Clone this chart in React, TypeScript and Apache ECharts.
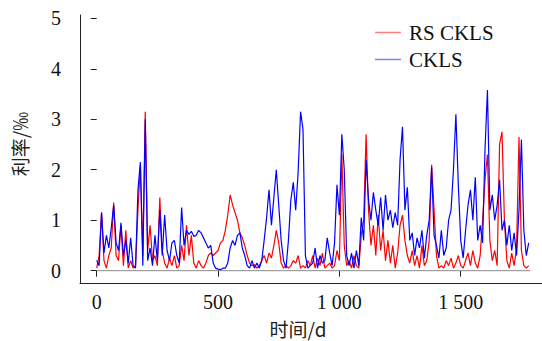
import React, { useEffect, useRef } from "react";
import * as echarts from "echarts";

const STEP_DAYS = 10;
const xTicks = [0, 500, 1000, 1500];
const yTicks = [0, 1, 2, 3, 4, 5];
const seriesNames = ["RS CKLS", "CKLS"];

const rsCkls = [
  0.05, 0.3, 1.15, 0.2, 0.05, 0.3, 0.45, 1.35, 0.3, 0.2,
  0.9, 0.1, 0.8, 0.05, 0.2, 0.05, 0.1, 1.2, 2.1, 0.3,
  3.15, 0.4, 0.9, 0.2, 0.3, 0.1, 1.45, 0.4, 0.15, 0.05,
  0.25, 0.1, 0.3, 0.05, 0.1, 0.5, 0.2, 0.9, 0.3, 0.7,
  0.15, 0.05, 0.2, 0.1, 0.05, 0.15, 0.3, 0.35, 0.3, 0.35,
  0.4, 0.55, 0.6, 0.8, 1.1, 1.5, 1.3, 1.15, 1.0, 0.75,
  0.65, 0.5, 0.3, 0.15, 0.1, 0.12, 0.05, 0.1, 0.2, 0.3,
  0.15, 0.35, 0.25, 0.5, 0.8, 0.55, 0.15, 0.05, 0.1, 0.05,
  0.1, 0.2, 0.15, 0.3, 0.05, 0.1, 0.05, 0.2, 0.1, 0.3,
  0.05, 0.25, 0.1, 0.35, 0.05, 0.1, 0.15, 0.05, 0.1, 0.4,
  0.2, 2.3, 0.5, 0.1, 0.2, 0.05, 0.3, 0.1, 0.05, 0.7,
  1.0, 2.7, 1.2, 0.5, 0.9, 0.3, 1.1, 0.4, 0.8, 0.2,
  0.6, 0.15, 0.5, 0.05, 0.35, 0.9, 1.1, 0.6, 0.3, 0.15,
  0.4, 0.1, 0.3, 0.05, 0.5, 0.1, 0.2, 0.6, 2.1, 1.2,
  0.3, 0.05, 0.1, 0.05, 0.2, 0.1, 0.25, 0.05, 0.15, 0.3,
  0.1, 0.05, 0.2, 0.35, 0.1, 0.4, 0.15, 0.05, 0.3, 1.0,
  1.8, 2.3, 0.6, 0.2, 0.4, 0.1, 2.5, 2.75, 1.0, 0.2,
  0.05, 0.35, 0.1, 0.45, 2.65, 0.4, 0.1, 0.05, 0.1,
];

const ckls = [
  0.2, 0.1, 1.15, 0.35, 0.7, 0.45, 0.85, 1.3, 0.55, 0.4,
  0.95, 0.3, 0.6, 0.15, 0.65, 0.1, 0.05, 1.6, 2.15, 0.1,
  3.0, 0.2, 0.45, 0.1, 0.7, 0.2, 1.2, 0.3, 1.1, 0.4,
  0.2, 0.55, 0.6, 0.3, 0.15, 1.25, 0.5, 0.8, 0.72, 0.78,
  0.68, 0.7, 0.8, 0.75, 0.65, 0.55, 0.45, 0.5, 0.15, 0.05,
  0.03, 0.02, 0.05, 0.05, 0.15, 0.45, 0.6, 0.5, 0.7, 0.75,
  0.45, 0.3, 0.1, 0.05, 0.2, 0.05, 0.15, 0.05, 0.2, 0.6,
  1.05, 1.6, 0.9, 1.45, 2.0, 1.3, 0.6, 0.2, 0.05, 0.6,
  1.4, 1.75, 1.2, 1.95, 3.15, 2.8, 0.3, 0.05, 0.1, 0.15,
  0.45, 0.05, 0.3, 0.15, 0.2, 0.65, 0.35, 0.1, 0.55, 1.7,
  1.1, 2.7, 2.0, 0.3, 0.1, 0.35, 0.05, 0.4, 0.1, 1.05,
  0.6, 2.2, 1.4, 1.0, 1.55, 1.2, 0.9, 1.45, 0.8, 1.5,
  1.0, 1.2, 0.85, 1.15, 0.9, 2.2, 2.85, 1.2, 1.65, 0.6,
  0.75, 0.3, 0.65, 0.45, 0.8, 0.25, 0.7, 1.0, 2.05, 0.7,
  0.5, 0.25, 0.8, 0.3, 0.45, 1.0, 1.2, 2.0, 3.1, 1.7,
  0.6, 0.25, 0.8, 1.3, 1.6, 1.0, 1.85, 0.6, 0.9, 0.55,
  2.4, 3.58, 1.2, 1.5, 1.0, 1.3, 1.8, 0.8, 1.0, 0.5,
  0.9, 0.4, 0.75, 0.3, 1.2, 2.6, 0.8, 0.3, 0.55,
];

const SERIF = "Liberation Serif";
const CJK = "Noto Sans CJK SC";

function fmtThousands(v: number): string {
  if (v >= 1000) {
    const th = Math.floor(v / 1000);
    const rest = String(v % 1000).padStart(3, "0");
    return th + " " + rest;
  }
  return String(v);
}

export default function App() {
  const ref = useRef<HTMLDivElement>(null);
  useEffect(() => {
    if (!ref.current) return;
    const chart = echarts.init(ref.current, null, { renderer: "svg" });
    const lastDay = (ckls.length - 1) * STEP_DAYS;
    chart.setOption({
      animation: false,
      backgroundColor: "#ffffff",
      textStyle: { fontFamily: SERIF },
      grid: [
        { left: 80, right: 0, top: 15, bottom: 58 },
        { left: 96.7, right: 81.3, top: 18.3, bottom: 70.3 },
      ],
      xAxis: [
        {
          gridIndex: 0,
          type: "value",
          min: -68.8,
          max: 1834.8,
          axisLine: { show: true, onZero: false, lineStyle: { color: "#222", width: 1 } },
          axisTick: { show: false },
          axisLabel: { show: false },
          splitLine: { show: false },
        },
        {
          gridIndex: 1,
          type: "value",
          min: xTicks[0],
          max: xTicks[xTicks.length - 1],
          interval: 500,
          position: "bottom",
          offset: 12.3,
          axisLine: { show: false },
          axisTick: { show: true, length: 6, lineStyle: { color: "#222" } },
          axisLabel: {
            show: true,
            margin: 9,
            fontFamily: SERIF,
            fontSize: 20,
            color: "#111",
            formatter: (v: number) => fmtThousands(v),
          },
          splitLine: { show: false },
        },
      ],
      yAxis: [
        {
          gridIndex: 0,
          type: "value",
          min: -0.244,
          max: 5.065,
          axisLine: { show: true, onZero: false, lineStyle: { color: "#222", width: 1 } },
          axisTick: { show: false },
          axisLabel: { show: false },
          splitLine: { show: false },
        },
        {
          gridIndex: 1,
          type: "value",
          min: yTicks[0],
          max: yTicks[yTicks.length - 1],
          interval: 1,
          position: "left",
          offset: 16.7,
          axisLine: { show: false },
          axisTick: { show: true, length: 6, lineStyle: { color: "#222" } },
          axisLabel: {
            show: true,
            margin: 19,
            fontFamily: SERIF,
            fontSize: 20,
            color: "#111",
          },
          splitLine: { show: false },
        },
      ],
      legend: {
        data: [
          { name: seriesNames[0], itemStyle: { color: "#ff8080" } },
          { name: seriesNames[1], itemStyle: { color: "#8080ff" } },
        ],
        orient: "vertical",
        left: 370,
        top: 17,
        icon: "rect",
        itemWidth: 26,
        itemHeight: 1.5,
        itemGap: 6,
        textStyle: {
          fontFamily: SERIF,
          fontSize: 21,
          color: "#111",
          lineHeight: 20,
          padding: [0, 0, 0, 3],
        },
      },
      graphic: [
        {
          type: "text",
          x: 19,
          y: 144,
          rotation: Math.PI / 2,
          style: {
            text: "利率/‰",
            fontFamily: CJK,
            fontSize: 19,
            fill: "#222",
            align: "center",
            verticalAlign: "middle",
          },
        },
        {
          type: "text",
          x: 298,
          y: 328,
          style: {
            text: "时间/d",
            fontFamily: CJK,
            fontSize: 19,
            fill: "#222",
            align: "center",
            verticalAlign: "middle",
          },
        },
      ],
      series: [
        {
          name: "zero",
          type: "line",
          xAxisIndex: 0,
          yAxisIndex: 0,
          data: [
            [0, 0],
            [lastDay + 6, 0],
          ],
          symbol: "none",
          silent: true,
          lineStyle: { color: "#8a8a8a", width: 1 },
          z: 1,
        },
        {
          name: seriesNames[0],
          type: "line",
          xAxisIndex: 0,
          yAxisIndex: 0,
          data: rsCkls.map((v, i) => [i * STEP_DAYS, v]),
          symbol: "none",
          lineStyle: { color: "#ff0000", width: 1.2 },
          itemStyle: { color: "#ff0000" },
          z: 2,
        },
        {
          name: seriesNames[1],
          type: "line",
          xAxisIndex: 0,
          yAxisIndex: 0,
          data: ckls.map((v, i) => [i * STEP_DAYS, v]),
          symbol: "none",
          lineStyle: { color: "#0000ff", width: 1.2 },
          itemStyle: { color: "#0000ff" },
          z: 3,
        },
      ],
    });
    return () => chart.dispose();
  }, []);
  return (
    <div
      ref={ref}
      style={{ position: "fixed", left: 0, top: 0, width: 542, height: 341, background: "#fff" }}
    />
  );
}
